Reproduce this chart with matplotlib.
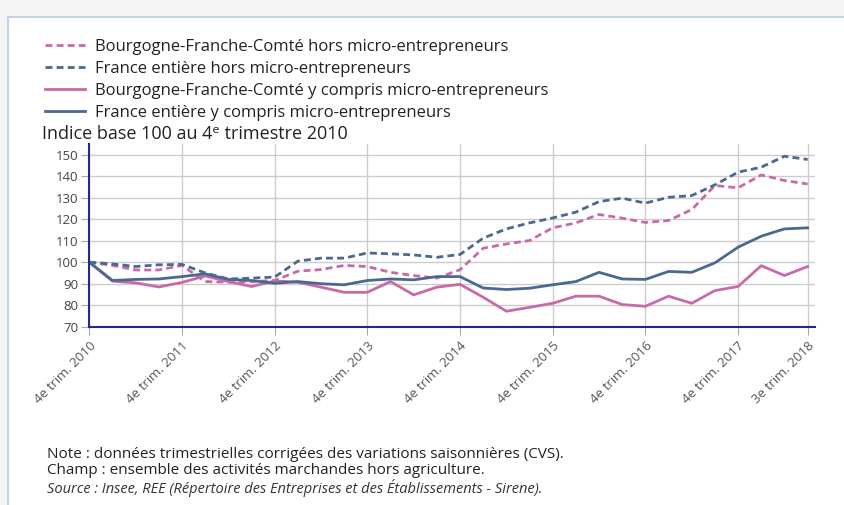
import matplotlib.pyplot as plt
from matplotlib.patches import Rectangle
from matplotlib.lines import Line2D

plt.rcParams['font.family'] = ['Open Sans', 'DejaVu Sans']

# trimestres 4e trim. 2010 -> 3e trim. 2018
quarters = list(range(32))
tick_pos = [0, 4, 8, 12, 16, 20, 24, 28, 31]
tick_labels = ['4e trim. 2010', '4e trim. 2011', '4e trim. 2012', '4e trim. 2013',
               '4e trim. 2014', '4e trim. 2015', '4e trim. 2016', '4e trim. 2017',
               '3e trim. 2018']

bfc_hors = [100, 98.5, 96.4, 96.4, 98.5, 91.0, 90.7, 91.0, 91.5, 95.8, 96.6, 98.5,
            98.0, 95.3, 93.8, 92.6, 96.5, 106.5, 108.5, 110.1, 116.0, 118.3, 122.2, 120.5,
            118.5, 119.4, 124.5, 135.7, 134.6, 140.6, 138.0, 136.4]
fr_hors = [100, 99.2, 98.0, 98.8, 99.0, 95.0, 92.2, 92.6, 93.1, 100.5, 101.9, 101.9,
           104.3, 103.9, 103.4, 102.3, 103.6, 111.2, 115.5, 118.3, 120.6, 123.3, 128.2, 129.8,
           127.5, 130.2, 131.0, 136.0, 141.9, 144.2, 149.3, 147.8]
bfc_y = [100, 91.2, 90.4, 88.5, 90.6, 93.6, 91.0, 88.7, 91.3, 90.7, 88.4, 86.0,
         86.0, 91.0, 84.8, 88.4, 89.7, 83.7, 77.2, 79.0, 80.9, 84.2, 84.2, 80.3,
         79.5, 84.2, 80.9, 86.8, 88.7, 98.4, 93.8, 98.0]
fr_y = [100, 91.5, 92.0, 92.2, 93.3, 94.6, 92.0, 91.5, 90.2, 91.0, 90.0, 89.5,
        91.5, 92.2, 91.8, 93.3, 93.3, 88.0, 87.3, 87.9, 89.5, 91.0, 95.3, 92.2,
        92.0, 95.7, 95.3, 99.7, 107.0, 112.1, 115.5, 116.0]

pink = '#c86aa8'
blue = '#4b6890'

fig = plt.figure(figsize=(8.44, 5.05), dpi=100)

# cadre de la page
fig.patches.append(Rectangle((0, 1 - 17/505), 1, 17/505, transform=fig.transFigure,
                             facecolor='#f5f5f5', edgecolor='none', zorder=0))
fig.patches.append(Rectangle((0, 0), 8/844, 1 - 17/505, transform=fig.transFigure,
                             facecolor='#f5f5f5', edgecolor='none', zorder=0))
fig.lines.append(Line2D([8/844, 1], [1 - 17/505, 1 - 17/505], transform=fig.transFigure,
                        color='#c3d3ea', lw=1.5))
fig.lines.append(Line2D([8/844, 8/844], [0, 1 - 17/505], transform=fig.transFigure,
                        color='#c3d3ea', lw=1.5))

ax = fig.add_axes([89.3/844, 1 - 326.7/505, 725.7/844, (326.7 - 144)/505])

ax.plot(quarters, bfc_hors, color=pink, lw=2, dashes=(2.5, 1.5),
        label='Bourgogne-Franche-Comté hors micro-entrepreneurs')
ax.plot(quarters, fr_hors, color=blue, lw=2, dashes=(2.5, 1.5),
        label='France entière hors micro-entrepreneurs')
ax.plot(quarters, bfc_y, color=pink, lw=2,
        label='Bourgogne-Franche-Comté y compris micro-entrepreneurs')
ax.plot(quarters, fr_y, color=blue, lw=2,
        label='France entière y compris micro-entrepreneurs')

ax.set_xlim(0, 31.32)
ax.set_ylim(70, 155)
ax.set_yticks(range(70, 151, 10))
ax.set_xticks(tick_pos)
ax.set_xticklabels(tick_labels, rotation=45, ha='right', rotation_mode='anchor',
                   fontsize=9.5, color='#555555')
ax.tick_params(axis='y', labelsize=9.5, colors='#444444', length=6, color='#aaaaaa', pad=2)
ax.tick_params(axis='x', length=6, color='#aaaaaa', pad=3)
ax.grid(True, color='#cccccc', lw=1)
ax.set_axisbelow(True)
for s in ['top', 'right']:
    ax.spines[s].set_visible(False)
for s in ['left', 'bottom']:
    ax.spines[s].set_color('#1f2a80')
    ax.spines[s].set_linewidth(1.5)

fig.text(42/844, 1 - 134/505, 'Indice base 100 au 4ᵉ trimestre 2010', fontsize=13,
         color='#222222', va='center', ha='left')

ax.legend(loc='upper left', bbox_to_anchor=(45/844, 1 - 39/505),
          bbox_transform=fig.transFigure, frameon=False, fontsize=12,
          borderpad=0, borderaxespad=0,
          handlelength=2.4, labelspacing=0.36, handletextpad=0.6,
          labelcolor='#222222')

fig.text(47/844, 1 - 455/505, 'Note : données trimestrielles corrigées des variations saisonnières (CVS).',
         fontsize=11, color='#222222', va='center')
fig.text(47/844, 1 - 471/505, 'Champ : ensemble des activités marchandes hors agriculture.',
         fontsize=11, color='#222222', va='center')
fig.text(47/844, 1 - 488/505, 'Source : Insee, REE (Répertoire des Entreprises et des Établissements - Sirene).',
         fontsize=10.5, color='#333333', va='center', style='italic')

fig.savefig('out.png', dpi=100)
